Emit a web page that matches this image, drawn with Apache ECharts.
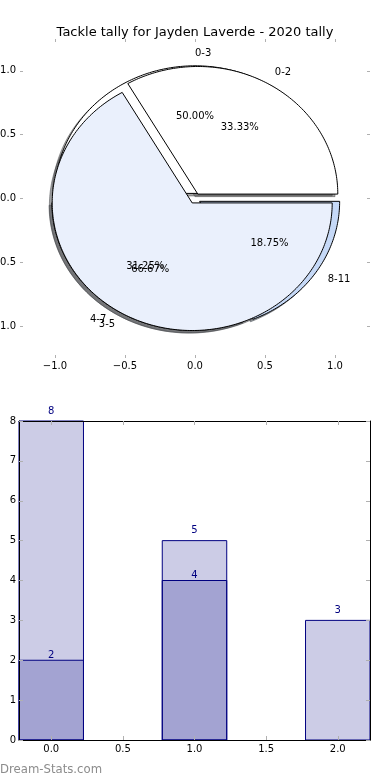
<!DOCTYPE html>
<html><head><meta charset="utf-8">
<script src="https://cdn.jsdelivr.net/npm/echarts@6/dist/echarts.min.js"></script>
<style>html,body{margin:0;padding:0;background:#fff}#c{width:390px;height:780px}</style>
</head><body><div id="c"></div>
<script>
// ---- data ----
const chartTitle = 'Tackle tally for Jayden Laverde - 2020 tally';
const tallyLabels = ['0-3', '4-7', '8-11'];
const tallyValues = [8, 5, 3];
const gameLabels = ['0-2', '3-5'];
const gameValues = [2, 4];
const barPositions = [0, 1, 2];
const pieTicks = [-1, -0.5, 0, 0.5, 1];
const barXTicks = [0, 0.5, 1, 1.5, 2];
const watermark = 'Dream-Stats.com';

// ---- style ----
const FONT = 'DejaVu Sans';
const wedgeColors = ['#ffffff', '#eaf0fc', '#c6d9f7'];
const EXPLODE = 0.04, SHADOW = 0.02, BAR_W = 0.45;
const NAVY = '#000080';
const TICK_GRAY = '#b0b0b0';

function wedgeGeom(values) {
  const total = values.reduce((a, b) => a + b, 0);
  let acc = 0;
  return values.map(v => {
    const t1 = acc / total * 360; acc += v; const t2 = acc / total * 360;
    const mid = (t1 + t2) / 2 * Math.PI / 180;
    return { t1, t2, frac: v / total, mid, cx: EXPLODE * Math.cos(mid), cy: EXPLODE * Math.sin(mid) };
  });
}
const geomA = wedgeGeom(tallyValues);
const geomB = wedgeGeom(gameValues);

function wedgePoints(g, api, dx, dy) {
  const pts = [api.coord([g.cx + dx, g.cy + dy])];
  const n = Math.max(2, Math.ceil(g.t2 - g.t1));
  for (let i = 0; i <= n; i++) {
    const a = (g.t1 + (g.t2 - g.t1) * i / n) * Math.PI / 180;
    pts.push(api.coord([g.cx + dx + Math.cos(a), g.cy + dy + Math.sin(a)]));
  }
  return pts;
}
function shadowColor(hex) {
  const r = parseInt(hex.slice(1, 3), 16), g = parseInt(hex.slice(3, 5), 16), b = parseInt(hex.slice(5, 7), 16);
  return 'rgba(' + Math.round(r * 0.3) + ',' + Math.round(g * 0.3) + ',' + Math.round(b * 0.3) + ',0.5)';
}
function shadowSeries(geom, values) {
  return {
    type: 'custom', xAxisIndex: 0, yAxisIndex: 0, clip: false, z: 1, silent: true,
    data: values.map((v, i) => [i, v]),
    renderItem(params, api) {
      const g = geom[params.dataIndex];
      const c = shadowColor(wedgeColors[params.dataIndex]);
      return { type: 'polygon', shape: { points: wedgePoints(g, api, -SHADOW, -SHADOW) }, style: { fill: c, stroke: c, lineWidth: 1 } };
    }
  };
}
function wedgeSeries(geom, values, z) {
  return {
    type: 'custom', xAxisIndex: 0, yAxisIndex: 0, clip: false, z: z, silent: true,
    data: values.map((v, i) => [i, v]),
    renderItem(params, api) {
      const g = geom[params.dataIndex];
      return { type: 'polygon', shape: { points: wedgePoints(g, api, 0, 0) }, style: { fill: wedgeColors[params.dataIndex], stroke: '#000', lineWidth: 1 } };
    }
  };
}
function labelSeries(geom, values, labels) {
  return {
    type: 'custom', xAxisIndex: 0, yAxisIndex: 0, clip: false, z: 6, silent: true,
    data: values.map((v, i) => [i, v]),
    renderItem(params, api) {
      const g = geom[params.dataIndex];
      const xt = g.cx + 1.1 * Math.cos(g.mid), yt = g.cy + 1.1 * Math.sin(g.mid);
      const xp = g.cx + 0.6 * Math.cos(g.mid), yp = g.cy + 0.6 * Math.sin(g.mid);
      const pl = api.coord([xt, yt]), pp = api.coord([xp, yp]);
      return { type: 'group', children: [
        { type: 'text', x: pl[0], y: pl[1], style: { text: labels[params.dataIndex], fill: '#000', font: '10px "' + FONT + '"', align: xt > 0 ? 'left' : 'right', verticalAlign: 'middle' } },
        { type: 'text', x: pp[0], y: pp[1], style: { text: (g.frac * 100).toFixed(2) + '%', fill: '#000', font: '10px "' + FONT + '"', align: 'center', verticalAlign: 'middle' } }
      ] };
    }
  };
}
function barSeries(values, fill, labelOffset, z) {
  return {
    type: 'custom', xAxisIndex: 2, yAxisIndex: 2, clip: false, z: z, silent: true,
    data: values.map((v, i) => [barPositions[i], v]),
    renderItem(params, api) {
      const x = api.value(0), v = api.value(1);
      const p1 = api.coord([x - BAR_W / 2, v]), p2 = api.coord([x + BAR_W / 2, 0]);
      return { type: 'group', children: [
        { type: 'rect', shape: { x: p1[0], y: p1[1], width: p2[0] - p1[0], height: p2[1] - p1[1] }, style: { fill: fill, stroke: NAVY, lineWidth: 1 } },
        { type: 'text', x: (p1[0] + p2[0]) / 2, y: p1[1] - labelOffset, style: { text: String(v), fill: NAVY, font: '10px "' + FONT + '"', align: 'center', verticalAlign: 'bottom' } }
      ] };
    }
  };
}
const fmt = v => (v < 0 ? '\u2212' : '') + Math.abs(v).toFixed(1);
const tickStyle = { show: true, inside: true, length: 3, lineStyle: { color: TICK_GRAY, width: 1 } };
const lbl = { fontFamily: FONT, fontSize: 10, color: '#000' };

function pieAxis(kind, pos, labels) {
  const a = { gridIndex: 0, type: 'value', position: pos, min: -1.25, max: 1.25,
    axisLine: { show: false, onZero: false }, splitLine: { show: false },
    axisTick: Object.assign({ customValues: pieTicks }, tickStyle),
    axisLabel: labels ? Object.assign({ customValues: pieTicks, formatter: fmt, margin: kind === 'x' ? 3 : 4 }, lbl) : { show: false } };
  return a;
}
function barAxisX(pos, labels) {
  return { gridIndex: 1, type: 'value', position: pos, min: -BAR_W / 2, max: barPositions[barPositions.length - 1] + BAR_W / 2, z: 10,
    axisLine: { show: true, onZero: false, lineStyle: { color: '#000', width: 1 } }, splitLine: { show: false },
    axisTick: Object.assign({ customValues: barXTicks }, tickStyle, { length: 4 }),
    axisLabel: labels ? Object.assign({ customValues: barXTicks, formatter: v => v.toFixed(1), margin: 4 }, lbl) : { show: false } };
}
function barAxisY(pos, labels) {
  return { gridIndex: 1, type: 'value', position: pos, min: 0, max: 8, interval: 1, z: 10,
    axisLine: { show: true, onZero: false, lineStyle: { color: '#000', width: 1 } }, splitLine: { show: false },
    axisTick: Object.assign({}, tickStyle, { length: 4 }),
    axisLabel: labels ? Object.assign({ margin: 3 }, lbl) : { show: false } };
}

const chart = echarts.init(document.getElementById('c'), null, { renderer: 'canvas' });
chart.setOption({
  animation: false,
  backgroundColor: '#fff',
  title: { text: chartTitle, left: 'center', top: 21, textStyle: { fontFamily: FONT, fontSize: 13, fontWeight: 'normal', color: '#000' } },
  grid: [
    { left: 20, top: 39, width: 350, height: 319, containLabel: false, outerBoundsMode: 'none' },
    { left: 19, top: 421, width: 351, height: 319, containLabel: false, outerBoundsMode: 'none' }
  ],
  xAxis: [pieAxis('x', 'bottom', true), pieAxis('x', 'top', false), barAxisX('bottom', true), barAxisX('top', false)],
  yAxis: [pieAxis('y', 'left', true), pieAxis('y', 'right', false), barAxisY('left', true), barAxisY('right', false)],
  graphic: [{ type: 'text', left: 0, top: 764, style: { text: watermark, fill: '#8c8c8c', font: '11.7px "' + FONT + '"' } }],
  series: [
    shadowSeries(geomA, tallyValues),
    shadowSeries(geomB, gameValues),
    wedgeSeries(geomA, tallyValues, 2),
    wedgeSeries(geomB, gameValues, 3),
    labelSeries(geomA, tallyValues, tallyLabels),
    labelSeries(geomB, gameValues, gameLabels),
    barSeries(tallyValues, 'rgba(0,0,128,0.2)', 5, 4),
    barSeries(gameValues, 'rgba(0,0,128,0.2)', 0, 5)
  ]
});
</script></body></html>
